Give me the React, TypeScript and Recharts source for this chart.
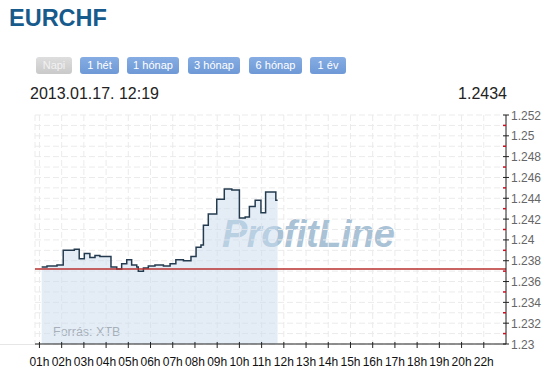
import React from "react";
import {
  ComposedChart,
  Area,
  XAxis,
  YAxis,
  CartesianGrid,
  ReferenceLine,
} from "recharts";

// EURCHF napi árfolyam (órák 01h-tól számítva)
const hours = [
  0.1, 0.34, 0.79, 1.07, 1.57, 1.79, 2.02, 2.27, 2.5, 2.72, 3.22, 3.48, 3.7,
  3.93, 4.15, 4.38, 4.45, 4.68, 4.9, 5.2, 5.58, 5.88, 6.14, 6.48, 6.82, 7.05,
  7.27, 7.38, 7.6, 7.98, 8.32, 8.66, 9.0, 9.26, 9.45, 9.71, 9.97, 10.18, 10.64,
  10.72,
];
const rates = [
  1.2374, 1.2375, 1.2376, 1.239, 1.2391, 1.2382, 1.2387, 1.2383, 1.2385,
  1.2384, 1.2374, 1.2372, 1.2377, 1.2381, 1.2376, 1.2374, 1.237, 1.2373,
  1.2375, 1.2376, 1.2375, 1.2377, 1.2381, 1.238, 1.2384, 1.2393, 1.2395,
  1.2414, 1.2425, 1.2439, 1.2449, 1.2448, 1.2421, 1.2422, 1.2432, 1.2438,
  1.2426, 1.2446, 1.2438, 1.2438,
];

const hourLabels = [
  "01h", "02h", "03h", "04h", "05h", "06h", "07h", "08h", "09h", "10h", "11h",
  "12h", "13h", "14h", "15h", "16h", "17h", "18h", "19h", "20h", "22h",
];
const hourTicks = [0, 1, 2, 3, 4, 5, 6, 7, 8, 9, 10, 11, 12, 13, 14, 15, 16, 17, 18, 19, 20];

const rateTicks = [
  1.23, 1.231, 1.232, 1.233, 1.234, 1.235, 1.236, 1.237, 1.238, 1.239, 1.24,
  1.241, 1.242, 1.243, 1.244, 1.245, 1.246, 1.247, 1.248, 1.249, 1.25, 1.251,
  1.252,
];

const prevClose = 1.2372;
const lastRate = "1.2434";
const dateText = "2013.01.17. 12:19";
const periods = ["Napi", "1 hét", "1 hónap", "3 hónap", "6 hónap", "1 év"];

const data = hours.map((h, i) => ({ h, rate: rates[i] }));

const FONT = "Arial, 'Liberation Sans', sans-serif";

const buttonPos = [
  { left: 36, width: 36 },
  { left: 80, width: 39 },
  { left: 127, width: 52 },
  { left: 188, width: 52 },
  { left: 249, width: 53 },
  { left: 310, width: 36 },
];

const YTick = (props: any) => {
  const { x, y, payload } = props;
  const major = Math.round(payload.value * 1000) % 2 === 0;
  if (!major) {
    return <line x1={x - 3} x2={x} y1={y} y2={y} stroke="#cc1122" strokeWidth={1.5} />;
  }
  return (
    <g>
      <line x1={x - 3} x2={x + 3} y1={y} y2={y} stroke="#222" />
      <text x={x + 5} y={y + 4.5} fill="#666" fontSize={12} fontFamily={FONT}>
        {Number(payload.value.toFixed(3)).toString()}
      </text>
    </g>
  );
};

const XTick = (props: any) => {
  const { x, y, payload } = props;
  return (
    <g>
      <line x1={x} x2={x} y1={y - 2} y2={y + 4} stroke="#222" />
      <text x={x} y={y + 22} textAnchor="middle" fill="#111" fontSize={12} fontFamily={FONT}>
        {hourLabels[payload.value]}
      </text>
    </g>
  );
};

export default function App() {
  return (
    <div
      style={{
        position: "fixed",
        left: 0,
        top: 0,
        width: 557,
        height: 372,
        background: "#fff",
        overflow: "hidden",
        fontFamily: FONT,
      }}
    >
      <div
        style={{
          position: "absolute",
          left: 9,
          top: 4,
          fontSize: 23.5,
          fontWeight: "bold",
          color: "#175a8c",
          lineHeight: "28px",
        }}
      >
        EURCHF
      </div>

      {periods.map((p, i) => (
        <div
          key={p}
          style={{
            position: "absolute",
            left: buttonPos[i].left,
            top: 57,
            width: buttonPos[i].width,
            height: 17,
            lineHeight: "17px",
            borderRadius: 3,
            fontSize: 11,
            textAlign: "center",
            color: i === 0 ? "#f2f2f2" : "#fff",
            background:
              i === 0
                ? "linear-gradient(#dedede, #c9c9c9)"
                : "linear-gradient(#86ade3, #6e99d6)",
          }}
        >
          {p}
        </div>
      ))}

      <div
        style={{
          position: "absolute",
          left: 30,
          top: 84,
          fontSize: 16,
          color: "#222",
          lineHeight: "20px",
        }}
      >
        {dateText}
      </div>
      <div
        style={{
          position: "absolute",
          right: 50,
          top: 84,
          fontSize: 16,
          color: "#222",
          lineHeight: "20px",
        }}
      >
        {lastRate}
      </div>

      <div
        style={{
          position: "absolute",
          left: 0,
          top: 344,
          width: 36,
          height: 1,
          background: "#e6e6e6",
        }}
      />

      <svg
        width={557}
        height={372}
        style={{ position: "absolute", left: 0, top: 0 }}
      >
        <text
          x={222}
          y={246.5}
          fontSize={38}
          fontWeight="bold"
          fontStyle="italic"
          fill="#a9c2d6"
          fontFamily={FONT}
          letterSpacing={-0.5}
        >
          ProfitLine
        </text>
        <text x={53} y={335.5} fontSize={12.5} fill="#858585" fontFamily={FONT}>
          Forrás: XTB
        </text>
      </svg>

      <div style={{ position: "absolute", left: 0, top: 0 }}>
        <ComposedChart
          width={557}
          height={372}
          data={data}
          margin={{ top: 115, right: 0, bottom: 0, left: 35 }}
        >
          <CartesianGrid stroke="#ebebeb" strokeDasharray="6 3" />
          <XAxis
            dataKey="h"
            type="number"
            domain={[-0.2, 21]}
            ticks={hourTicks}
            height={28}
            tickSize={0}
            tickMargin={0}
            axisLine={{ stroke: "#222" }}
            tickLine={false}
            tick={<XTick />}
            interval={0}
          />
          <YAxis
            orientation="right"
            type="number"
            domain={[1.23, 1.252]}
            ticks={rateTicks}
            width={51}
            tickSize={0}
            tickMargin={0}
            axisLine={{ stroke: "#222" }}
            tickLine={false}
            tick={<YTick />}
            interval={0}
            allowDataOverflow
          />
          <Area
            type="stepAfter"
            dataKey="rate"
            stroke="#243b4f"
            strokeWidth={1.5}
            fill="#c9dcee"
            fillOpacity={0.5}
            isAnimationActive={false}
            dot={false}
            activeDot={false}
          />
          <ReferenceLine
            y={prevClose}
            stroke="#b8312f"
            strokeWidth={1.5}
            ifOverflow="extendDomain"
          />
        </ComposedChart>
      </div>
    </div>
  );
}
